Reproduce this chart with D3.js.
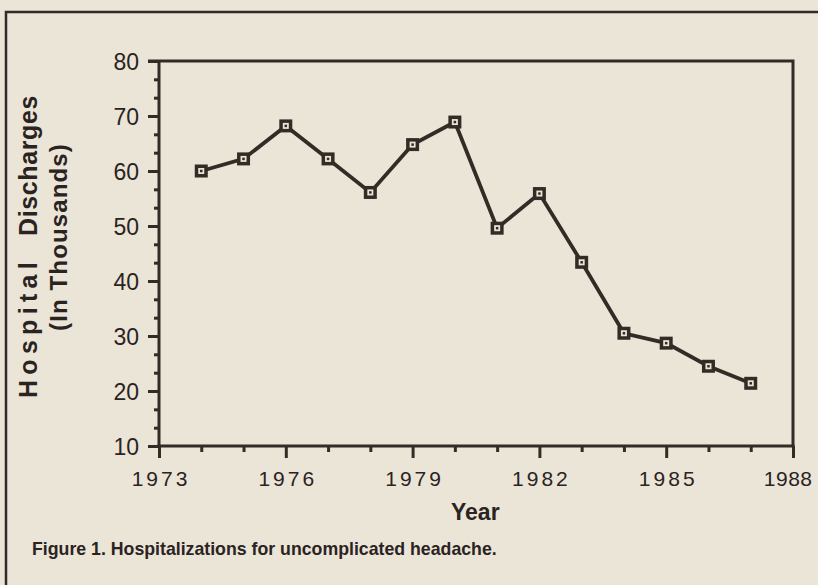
<!DOCTYPE html>
<html>
<head>
<meta charset="utf-8">
<script src="https://cdn.jsdelivr.net/npm/d3@7"></script>
<style>
  html, body { margin: 0; padding: 0; background: #ebe5d8; }
  svg { display: block; }
  text { font-family: "Liberation Sans", Arial, Helvetica, sans-serif; fill: #2a231f; }
</style>
</head>
<body>
<svg id="chart" width="818" height="585"></svg>
<script>
// ---- data ----
const years = [1974, 1975, 1976, 1977, 1978, 1979, 1980, 1981, 1982, 1983, 1984, 1985, 1986, 1987];
const discharges = [60.0, 62.2, 68.2, 62.2, 56.1, 64.8, 68.9, 49.6, 55.9, 43.4, 30.5, 28.7, 24.5, 21.4];
const xMajorTicks = [1973, 1976, 1979, 1982, 1985, 1988];
const xMinorTicks = [1974, 1975, 1977, 1978, 1980, 1981, 1983, 1984, 1986, 1987];
const yMajorTicks = [10, 20, 30, 40, 50, 60, 70, 80];
const yMinorTicks = [13.33, 16.67, 23.33, 26.67, 33.33, 36.67, 43.33, 46.67, 53.33, 56.67, 63.33, 66.67, 73.33, 76.67];
const yTitleWords = ["Hospital", "Discharges"];
const yTitleLine2 = "(In Thousands)";
const xTitle = "Year";
const caption = "Figure 1. Hospitalizations for uncomplicated headache.";

const ink = "#332b26";
const paper = "#ebe5d8";
const svg = d3.select("#chart");

const x = d3.scaleLinear().domain([1973, 1988]).range([159, 793]);
const y = d3.scaleLinear().domain([10, 80]).range([446, 61]);

// outer page border (left and top)
svg.append("path")
  .attr("d", "M6,585 L6,12 L818,12")
  .attr("fill", "none").attr("stroke", ink).attr("stroke-width", 2.5);

// frame: top and right
svg.append("path")
  .attr("d", `M${x(1973) - 11},${y(80)} L${x(1988)},${y(80)} L${x(1988)},${y(10)}`)
  .attr("fill", "none").attr("stroke", ink).attr("stroke-width", 3);

// y axis
const yMajor = svg.append("g").attr("transform", `translate(${x(1973)},0)`)
  .call(d3.axisLeft(y).tickValues(yMajorTicks).tickSize(11).tickPadding(9).tickFormat(d3.format("d")));
const yMinor = svg.append("g").attr("transform", `translate(${x(1973)},0)`)
  .call(d3.axisLeft(y).tickValues(yMinorTicks).tickSize(5).tickFormat(""));

// x axis
const xMajor = svg.append("g").attr("transform", `translate(0,${y(10)})`)
  .call(d3.axisBottom(x).tickValues(xMajorTicks).tickSize(12).tickPadding(13).tickFormat(d3.format("d")));
const xMinor = svg.append("g").attr("transform", `translate(0,${y(10)})`)
  .call(d3.axisBottom(x).tickValues(xMinorTicks).tickSize(6).tickFormat(""));

[yMajor, yMinor, xMajor, xMinor].forEach(g => {
  g.select(".domain").remove();
  g.selectAll(".tick line").attr("stroke", ink).attr("stroke-width", 3);
});
// axis lines
svg.append("line").attr("x1", x(1973)).attr("x2", x(1973)).attr("y1", y(80)).attr("y2", y(10) + 1.5)
  .attr("stroke", ink).attr("stroke-width", 3);
svg.append("line").attr("x1", x(1973) - 1.5).attr("x2", x(1988) + 1.5).attr("y1", y(10)).attr("y2", y(10))
  .attr("stroke", ink).attr("stroke-width", 3);

yMajor.selectAll(".tick text")
  .style("font-size", "23px").attr("fill", "#2a231f").attr("dy", "0.36em");
xMajor.selectAll(".tick text")
  .style("font-size", "21px").style("letter-spacing", "3px").attr("dx", "1.5px").attr("fill", "#2a231f");
// last label is squeezed against the page edge, as in the reference
xMajor.selectAll(".tick text").filter(d => d === 1988)
  .style("letter-spacing", "0.5px").attr("text-anchor", "end").attr("dx", "19px");

// line
const line = d3.line().x((d, i) => x(years[i])).y(d => y(d));
svg.append("path").datum(discharges)
  .attr("d", line).attr("fill", "none").attr("stroke", ink)
  .attr("stroke-width", 3.8).attr("stroke-linejoin", "miter");

// markers
const mk = svg.append("g").selectAll("g").data(discharges).join("g")
  .attr("transform", (d, i) => `translate(${x(years[i])},${y(d)})`);
mk.append("rect").attr("x", -6.5).attr("y", -6.5).attr("width", 13).attr("height", 13).attr("fill", ink);
mk.append("rect").attr("x", -3).attr("y", -3).attr("width", 6).attr("height", 6).attr("fill", paper);
mk.append("rect").attr("x", -1.25).attr("y", -1.25).attr("width", 2.5).attr("height", 2.5).attr("fill", ink);

// y title
const fit = (sel, len) => {
  const w = sel.node().getComputedTextLength();
  const n = sel.text().length;
  sel.style("letter-spacing", Math.max(0, (len - w) / n) + "px");
};
const t1 = svg.append("text").attr("transform", "translate(37,398) rotate(-90)")
  .style("font-size", "25px").style("font-weight", "bold").text(yTitleWords[0]);
fit(t1, 141);
const t2 = svg.append("text").attr("transform", "translate(37,236) rotate(-90)")
  .style("font-size", "25px").style("font-weight", "bold").text(yTitleWords[1]);
fit(t2, 141);
const t3 = svg.append("text").attr("transform", "translate(67,331) rotate(-90)")
  .style("font-size", "24px").style("font-weight", "bold").text(yTitleLine2);
fit(t3, 188);

// x title
svg.append("text").attr("x", 451).attr("y", 520)
  .style("font-size", "23px").style("font-weight", "bold").text(xTitle);

// caption
const cap = svg.append("text").attr("x", 32).attr("y", 555)
  .style("font-size", "18px").style("font-weight", "bold").text(caption);
const cw = cap.node().getComputedTextLength();
cap.style("font-size", (18 * 465 / cw) + "px");
</script>
</body>
</html>
